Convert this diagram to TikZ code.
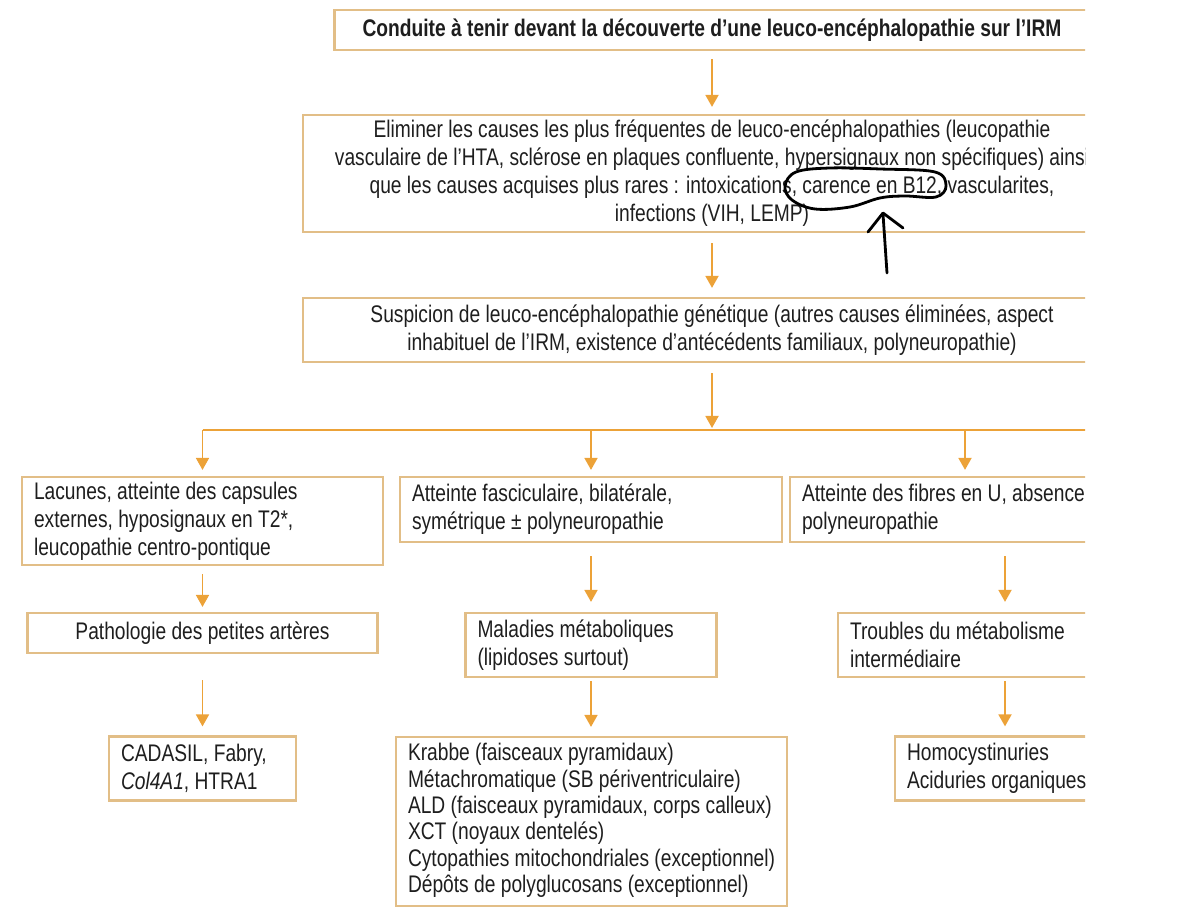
\documentclass[tikz,border=0pt]{standalone}
\usepackage{fontspec}
\setmainfont{Liberation Sans}[FakeStretch=0.80]
\usepackage{tikz}
\usetikzlibrary{arrows.meta}
\definecolor{boxline}{RGB}{226,190,135}
\definecolor{flow}{RGB}{236,162,56}
\definecolor{ink}{RGB}{30,30,30}

\tikzset{
  cbox/.style={draw=boxline, line width=1.1pt, text=ink, align=center, inner sep=0pt,
    font=\fontsize{12}{14}\selectfont},
  lbox/.style={draw=boxline, line width=1.1pt, text=ink, align=flush left, inner xsep=6pt, inner ysep=0pt,
    font=\fontsize{12}{14}\selectfont},
  flowline/.style={draw=flow, line width=0.9pt},
  flowarrow/.style={flowline, -{Triangle[width=6.5pt,length=6pt]}},
}

\begin{document}
\begin{tikzpicture}[x=0.5pt,y=0.5pt,yscale=-1,xscale=1]
\useasboundingbox (0,0) rectangle (1200,914);

\begin{scope}
\clip (0,0) rectangle (1085,914);

%Title
\node[cbox, font=\fontsize{12}{14}\selectfont\bfseries, minimum width=377.5pt, minimum height=20pt] (title) at (712,30)
  {Conduite à tenir devant la découverte d’une leuco-encéphalopathie sur l’IRM};
%Step 1
\node[cbox, minimum width=409pt, minimum height=58.5pt] (elim) at (712,173.5)
  {Eliminer les causes les plus fréquentes de leuco-encéphalopathies (leucopathie\\
   vasculaire de l’HTA, sclérose en plaques confluente, hypersignaux non spécifiques) ainsi\\
   que les causes acquises plus rares : intoxications, carence en B12, vascularites,\\
   infections (VIH, LEMP)};
%Step 2
\node[cbox, minimum width=409pt, minimum height=32pt] (susp) at (712,330)
  {Suspicion de leuco-encéphalopathie génétique (autres causes éliminées, aspect\\
   inhabituel de l’IRM, existence d’antécédents familiaux, polyneuropathie)};
\coordinate (bus) at (712,430);

%Left branch
\node[lbox, text width=168.5pt, minimum height=44pt] (lac) at (202.5,521)
  {Lacunes, atteinte des capsules\\ externes, hyposignaux en T2*,\\ leucopathie centro-pontique};
\node[cbox, minimum width=175pt, minimum height=20pt] (patho) at (202.5,633)
  {Pathologie des petites artères};
\node[lbox, text width=81.5pt, minimum height=32pt] (cada) at (202.5,768.5)
  {CADASIL, Fabry,\\ \textit{Col4A1}, HTRA1};

%Middle branch
\node[lbox, text width=179pt, minimum height=32.5pt] (fasc) at (591,509.5)
  {Atteinte fasciculaire, bilatérale,\\ symétrique ± polyneuropathie};
\node[lbox, text width=113.5pt, minimum height=32pt] (meta) at (591,645)
  {Maladies métaboliques\\ (lipidoses surtout)};
\node[lbox, text width=183.5pt, minimum height=84.5pt, font=\fontsize{12}{13.2}\selectfont] (krab) at (591.5,821.5)
  {\begin{tabular}{@{}l@{}}
   Krabbe (faisceaux pyramidaux)\\
   Métachromatique (SB périventriculaire)\\
   ALD (faisceaux pyramidaux, corps calleux)\\
   XCT (noyaux dentelés)\\
   Cytopathies mitochondriales (exceptionnel)\\
   Dépôts de polyglucosans (exceptionnel)
   \end{tabular}};

%Right branch
\node[lbox, text width=163pt, minimum height=32.5pt] (fibr) at (965,509.5)
  {Atteinte des fibres en U, absence\\ polyneuropathie};
\node[lbox, text width=155pt, minimum height=32pt] (trou) at (1005,645)
  {Troubles du métabolisme\\ intermédiaire};
\node[lbox, text width=108pt, minimum height=32pt] (homo) at (1015,768.5)
  {Homocystinuries\\ Aciduries organiques};

%Arrows
\draw[flowarrow, shorten <=4pt, shorten >=3.5pt] (title) -- (elim);
\draw[flowarrow, shorten <=5pt, shorten >=4.5pt] (elim) -- (susp);
\draw[flowarrow, shorten <=5pt, shorten >=1pt] (susp) -- (bus);
\draw[flowline] (lac.north |- bus) -- (1200,430);
\draw[flowarrow, shorten >=3pt] (lac.north |- bus) -- (lac);
\draw[flowarrow, shorten >=3pt] (fasc.north |- bus) -- (fasc);
\draw[flowarrow, shorten >=3pt] (fibr.north |- bus) -- (fibr);
\draw[flowarrow, shorten <=4pt, shorten >=2.5pt] (lac) -- (patho);
\draw[flowarrow, shorten <=13pt, shorten >=4.5pt] (patho) -- (cada);
\draw[flowarrow, shorten <=6.5pt, shorten >=5pt] (fasc) -- (meta);
\draw[flowarrow, shorten <=1.5pt, shorten >=4.5pt] (meta) -- (krab.north -| meta.south);
\draw[flowarrow, shorten <=6.5pt, shorten >=5pt] (fibr.south -| trou) -- (trou);
\draw[flowarrow, shorten <=1.5pt, shorten >=4.5pt] (trou) -- (homo.north -| trou.south);

%Hand-drawn mark
\draw[black, line width=1.4pt, line join=round] plot[smooth cycle, tension=0.6] coordinates
  {(785,186) (796,172) (830,168) (880,169) (935,172) (946,186) (936,197) (905,196) (880,198) (850,207) (815,209) (792,200)};
\draw[black, line width=1.4pt, line cap=round] (887,273) -- (883,214);
\draw[black, line width=1.4pt, line cap=round, line join=round] (868,232) -- (883,213) -- (903,228);
\end{scope}

\end{tikzpicture}
\end{document}
